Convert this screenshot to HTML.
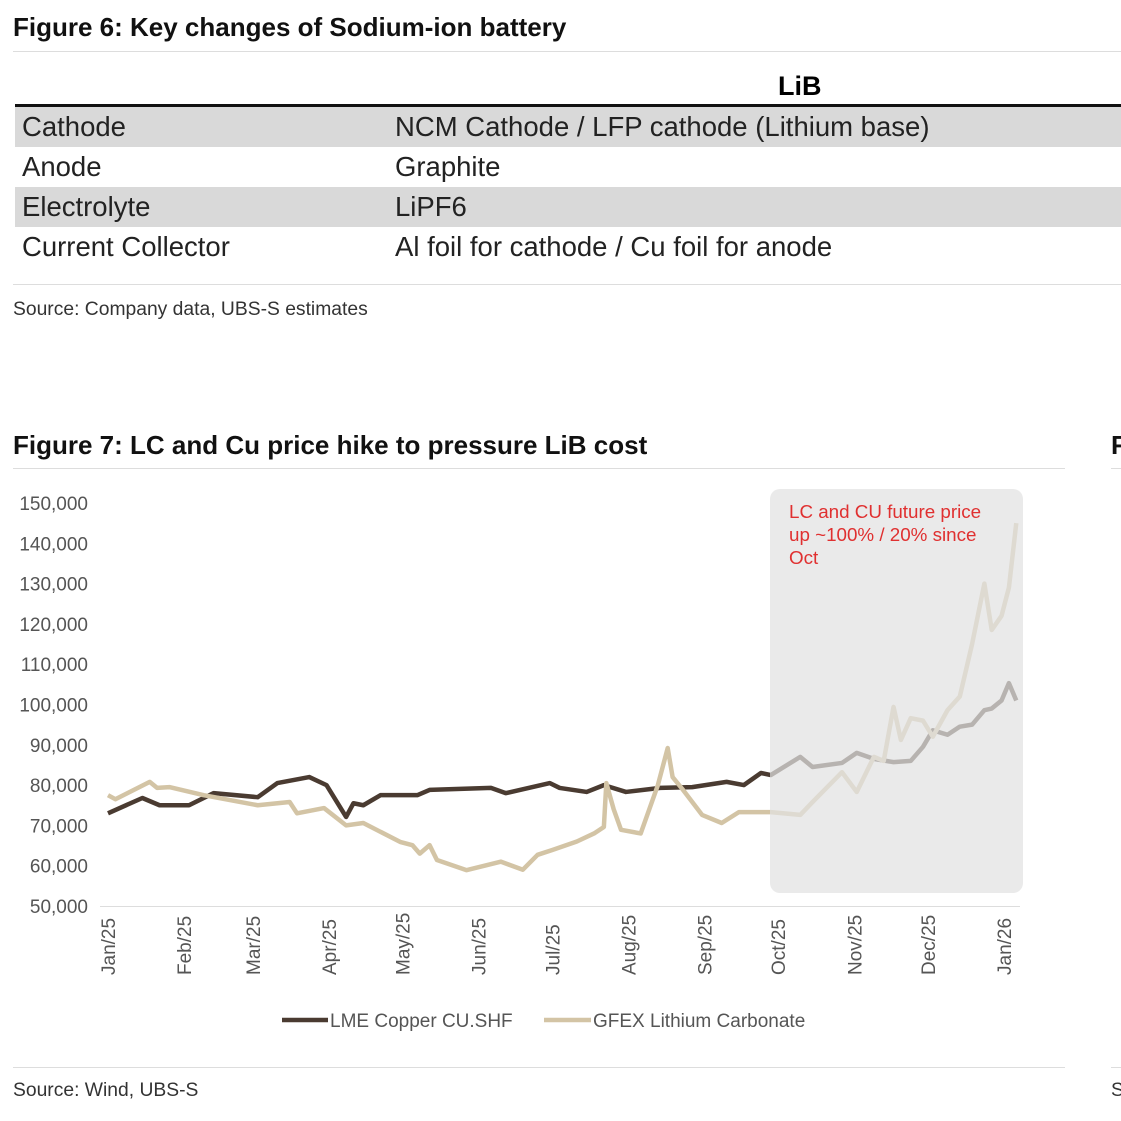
<!DOCTYPE html>
<html><head><meta charset="utf-8"><style>
body{margin:0;width:1121px;height:1121px;background:#fff;font-family:"Liberation Sans",sans-serif;position:relative;overflow:hidden}
.a{position:absolute;white-space:nowrap}
.t{font-weight:bold;font-size:26px;color:#111}
.row{position:absolute;left:15px;width:1106px;height:40px;font-size:27.5px;color:#222;line-height:40px}
.row span{position:absolute}
.hl{position:absolute;height:1px;background:#ddd}
.src{font-size:19.3px;color:#333}
</style></head><body>
<div class="a t" style="left:13px;top:12px">Figure 6: Key changes of Sodium-ion battery</div>
<div class="hl" style="left:13px;top:51px;width:1108px"></div>
<div class="a" style="left:778px;top:71px;font-size:27px;font-weight:bold">LiB</div>
<div class="a" style="left:15px;top:104px;width:1106px;height:3px;background:#111"></div>
<div class="row" style="top:107px;background:#d9d9d9"><span style="left:7px">Cathode</span><span style="left:380px">NCM Cathode / LFP cathode (Lithium base)</span></div>
<div class="row" style="top:147px"><span style="left:7px">Anode</span><span style="left:380px">Graphite</span></div>
<div class="row" style="top:187px;background:#d9d9d9"><span style="left:7px">Electrolyte</span><span style="left:380px">LiPF6</span></div>
<div class="row" style="top:227px"><span style="left:7px">Current Collector</span><span style="left:380px">Al foil for cathode / Cu foil for anode</span></div>
<div class="hl" style="left:13px;top:284px;width:1108px"></div>
<div class="a src" style="left:13px;top:299px">Source: Company data, UBS-S estimates</div>

<div class="a t" style="left:13px;top:430px">Figure 7: LC and Cu price hike to pressure LiB cost</div>
<div class="a t" style="left:1111px;top:430px">F</div>
<div class="hl" style="left:13px;top:468px;width:1052px"></div>
<div class="hl" style="left:1111px;top:468px;width:10px"></div>

<svg class="a" style="left:0;top:480px" width="1121" height="560" id="chart">
<g id="g"></g>
</svg>
<div class="hl" style="left:13px;top:1067px;width:1052px"></div>
<div class="hl" style="left:1111px;top:1067px;width:10px"></div>
<div class="a src" style="left:13px;top:1080px">Source: Wind, UBS-S</div>
<div class="a src" style="left:1111px;top:1080px">S</div>

<script>
const yTicks=[50000,60000,70000,80000,90000,100000,110000,120000,130000,140000,150000];
const months=["Jan/25","Feb/25","Mar/25","Apr/25","May/25","Jun/25","Jul/25","Aug/25","Sep/25","Oct/25","Nov/25","Dec/25","Jan/26"];
const monthDays=[0,31,59,90,120,151,181,212,243,273,304,334,365];
const cuDays=[0,14,21,33,43,61,69,82,89,97,100,104,111,126,131,156,162,180,184,195,202,211,225,238,252,259,266,270,282,287,299,305,312,320,327,332,336,342,347,352,357,360,364,367,370];
const cuVals=[73000,76800,75000,75000,78000,77000,80500,82000,80000,72100,75500,75000,77500,77500,78800,79300,78000,80500,79300,78300,80000,78300,79300,79500,80800,80000,83000,82500,87000,84500,85500,88000,86500,85700,86000,89500,93600,92500,94500,95000,98600,99000,101000,105300,101000];
const lcDays=[0,3,17,20,25,39,61,74,77,88,97,104,119,124,127,131,134,146,160,169,175,181,191,198,202,203,206,209,217,224,228,230,234,242,250,257,270,282,287,299,305,312,316,320,323,327,332,336,342,347,352,357,360,364,367,370];
const lcVals=[77500,76500,80800,79300,79500,77500,75000,75800,73000,74300,70000,70600,65900,65100,63000,65100,61400,58900,61000,59000,62700,63900,66000,68000,69600,80500,74000,68900,68000,80000,89200,82000,79000,72600,70600,73300,73300,72600,75800,83200,78300,87000,86000,99400,91200,96600,96000,92000,98600,102000,115000,130000,118500,122000,129000,145000];
const svg=document.getElementById('g'),NS='http://www.w3.org/2000/svg',OY=480;
const X=d=>108+d*(1004-108)/365;
const Y=v=>906-OY-(v-50000)*(403/100000);
function mk(t,a){const e=document.createElementNS(NS,t);for(const k in a)e.setAttribute(k,a[k]);svg.appendChild(e);return e;}
yTicks.forEach(v=>{const e=mk('text',{x:88,y:Y(v)+7,'text-anchor':'end','font-size':19,fill:'#555','font-family':'Liberation Sans, sans-serif'});e.textContent=v.toLocaleString('en-US');

});
mk('line',{x1:100,x2:1020,y1:Y(50000)+0.5,y2:Y(50000)+0.5,stroke:'#ddd'});
months.forEach((m,i)=>{const x=X(monthDays[i]);const e=mk('text',{x:0,y:0,transform:`translate(${x+7},${975-OY}) rotate(-90)`,'font-size':19,fill:'#555','font-family':'Liberation Sans, sans-serif'});e.textContent=m;

});
function line(days,vals,col,name){const p=mk('polyline',{points:days.map((d,i)=>X(d)+','+Y(vals[i])).join(' '),fill:'none',stroke:col,'stroke-width':4.5,'stroke-linejoin':'round'});

}
line(cuDays,cuVals,'#4a3b31','copper-line');
line(lcDays,lcVals,'#d3c4a5','lithium-line');
const box=mk('rect',{x:770,y:489-OY,width:253,height:404,rx:10,fill:'rgba(226,226,226,0.72)'});


["LC and CU future price","up ~100% / 20% since","Oct"].forEach((s,i)=>{const e=mk('text',{x:789,y:518-OY+i*23,'font-size':18.8,fill:'#e03030','font-family':'Liberation Sans, sans-serif'});e.textContent=s;

});
mk('line',{x1:282,x2:328,y1:1020-OY,y2:1020-OY,stroke:'#4a3b31','stroke-width':4.5});
let l1=mk('text',{x:330,y:1027-OY,'font-size':19,fill:'#555','font-family':'Liberation Sans, sans-serif'});l1.textContent='LME Copper CU.SHF';


mk('line',{x1:544,x2:591,y1:1020-OY,y2:1020-OY,stroke:'#d3c4a5','stroke-width':4.5});
let l2=mk('text',{x:593,y:1027-OY,'font-size':19,fill:'#555','font-family':'Liberation Sans, sans-serif'});l2.textContent='GFEX Lithium Carbonate';


</script>
</body></html>
